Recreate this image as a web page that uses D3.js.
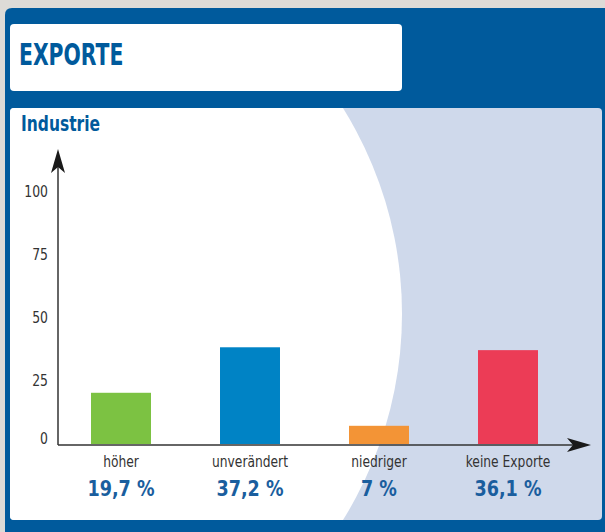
<!DOCTYPE html>
<html>
<head>
<meta charset="utf-8">
<script src="https://cdn.jsdelivr.net/npm/d3@7"></script>
<style>
  html, body { margin: 0; padding: 0; background: #dddbd7; }
  svg { display: block; }
  text { font-family: "Liberation Sans Narrow", "DejaVu Sans Condensed", sans-serif; }
</style>
</head>
<body>
<div id="chart"></div>
<script>
// data
var categories = ["höher", "unverändert", "niedriger", "keine Exporte"];
var values = [19.7, 37.2, 7, 36.1];
var valueLabels = ["19,7 %", "37,2 %", "7 %", "36,1 %"];
var barColors = ["#7cc242", "#0083c5", "#f39436", "#ec3c56"];
var yTicks = [0, 25, 50, 75, 100];

var W = 605, H = 532;
var blue = "#005a9c";

var svg = d3.select("#chart")
  .append("svg")
    .attr("width", W)
    .attr("height", H);

// squeeze text horizontally, the original font is a condensed one
function condense(sel, f) {
  sel.each(function() {
    var len = this.getComputedTextLength();
    d3.select(this)
      .attr("textLength", len * f)
      .attr("lengthAdjust", "spacingAndGlyphs");
  });
}

// outer blue frame
svg.append("path")
  .attr("d", "M5,532 L5,15 Q5,8 12,8 L605,8 L605,532 Z")
  .attr("fill", blue);

// title box
svg.append("rect")
  .attr("x", 10).attr("y", 24)
  .attr("width", 392).attr("height", 67)
  .attr("rx", 4)
  .attr("fill", "#fff");

svg.append("text")
  .attr("x", 19).attr("y", 65)
  .attr("fill", blue)
  .attr("font-size", 31)
  .attr("font-weight", "bold")
  .text("EXPORTE")
  .call(condense, 0.73);

// inner panel with light blue area and white circle
var defs = svg.append("defs");
defs.append("clipPath").attr("id", "panelClip")
  .append("rect")
    .attr("x", 10).attr("y", 108)
    .attr("width", 592).attr("height", 412)
    .attr("rx", 4);

var panel = svg.append("g").attr("clip-path", "url(#panelClip)");
panel.append("rect")
  .attr("x", 10).attr("y", 108)
  .attr("width", 592).attr("height", 412)
  .attr("fill", "#cfd9eb");
panel.append("circle")
  .attr("cx", 13).attr("cy", 314).attr("r", 389)
  .attr("fill", "#fff");

svg.append("text")
  .attr("x", 21).attr("y", 131)
  .attr("fill", blue)
  .attr("font-size", 21)
  .attr("font-weight", "bold")
  .text("Industrie")
  .call(condense, 0.82);

// scales
var x0 = 58, y0 = 444;
var x = d3.scaleBand()
  .domain(categories)
  .range([56.5, 572.5])
  .paddingInner(0.535)
  .paddingOuter(0.2675);

var y = d3.scaleLinear()
  .domain([0, 100])
  .range([y0, 184]);

// bars
svg.selectAll("rect.bar")
  .data(values)
  .enter()
  .append("rect")
    .attr("class", "bar")
    .attr("x", function(d, i) { return x(categories[i]); })
    .attr("y", function(d) { return y(d); })
    .attr("width", x.bandwidth())
    .attr("height", function(d) { return y0 - y(d); })
    .attr("fill", function(d, i) { return barColors[i]; });

// y axis labels
var yAxis = d3.axisLeft(y).tickValues(yTicks).tickSize(0).tickPadding(10);
var gy = svg.append("g")
  .attr("transform", "translate(" + x0 + ",0)")
  .call(yAxis);
gy.select(".domain").remove();
gy.selectAll("text")
  .attr("font-family", null)
  .attr("font-size", 15)
  .attr("fill", "#333")
  .attr("dy", function(d) { return d === 0 ? "-0.05em" : (0.3 + d / 100 * 0.55) + "em"; })
  .call(condense, 0.92);

// x axis labels
var xAxis = d3.axisBottom(x).tickSize(0).tickPadding(12);
var gx = svg.append("g")
  .attr("transform", "translate(0," + y0 + ")")
  .call(xAxis);
gx.select(".domain").remove();
gx.selectAll("text")
  .attr("font-family", null)
  .attr("font-size", 15)
  .attr("fill", "#333")
  .call(condense, 0.91);

svg.selectAll("text.val")
  .data(valueLabels)
  .enter()
  .append("text")
    .attr("class", "val")
    .attr("x", function(d, i) { return x(categories[i]) + x.bandwidth() / 2; })
    .attr("y", 496)
    .attr("text-anchor", "middle")
    .attr("fill", "#1a5e9e")
    .attr("font-size", 21)
    .attr("font-weight", "bold")
    .text(function(d) { return d; })
    .call(condense, 0.93);

// axis lines with arrowheads
var axisColor = "#333";
svg.append("line")
  .attr("x1", x0).attr("y1", y0 + 1)
  .attr("x2", x0).attr("y2", 160)
  .attr("stroke", axisColor).attr("stroke-width", 1.5);
svg.append("line")
  .attr("x1", x0).attr("y1", y0 + 1)
  .attr("x2", 578).attr("y2", y0 + 1)
  .attr("stroke", axisColor).attr("stroke-width", 1.5);

// vertical arrow head
svg.append("path")
  .attr("d", "M" + x0 + ",149 L" + (x0 + 7) + ",173 L" + x0 + ",167 L" + (x0 - 7) + ",173 Z")
  .attr("fill", "#1a1a1a");
// horizontal arrow head
svg.append("path")
  .attr("d", "M591," + (y0 + 1) + " L567," + (y0 - 6) + " L573," + (y0 + 1) + " L567," + (y0 + 8) + " Z")
  .attr("fill", "#1a1a1a");
</script>
</body>
</html>
